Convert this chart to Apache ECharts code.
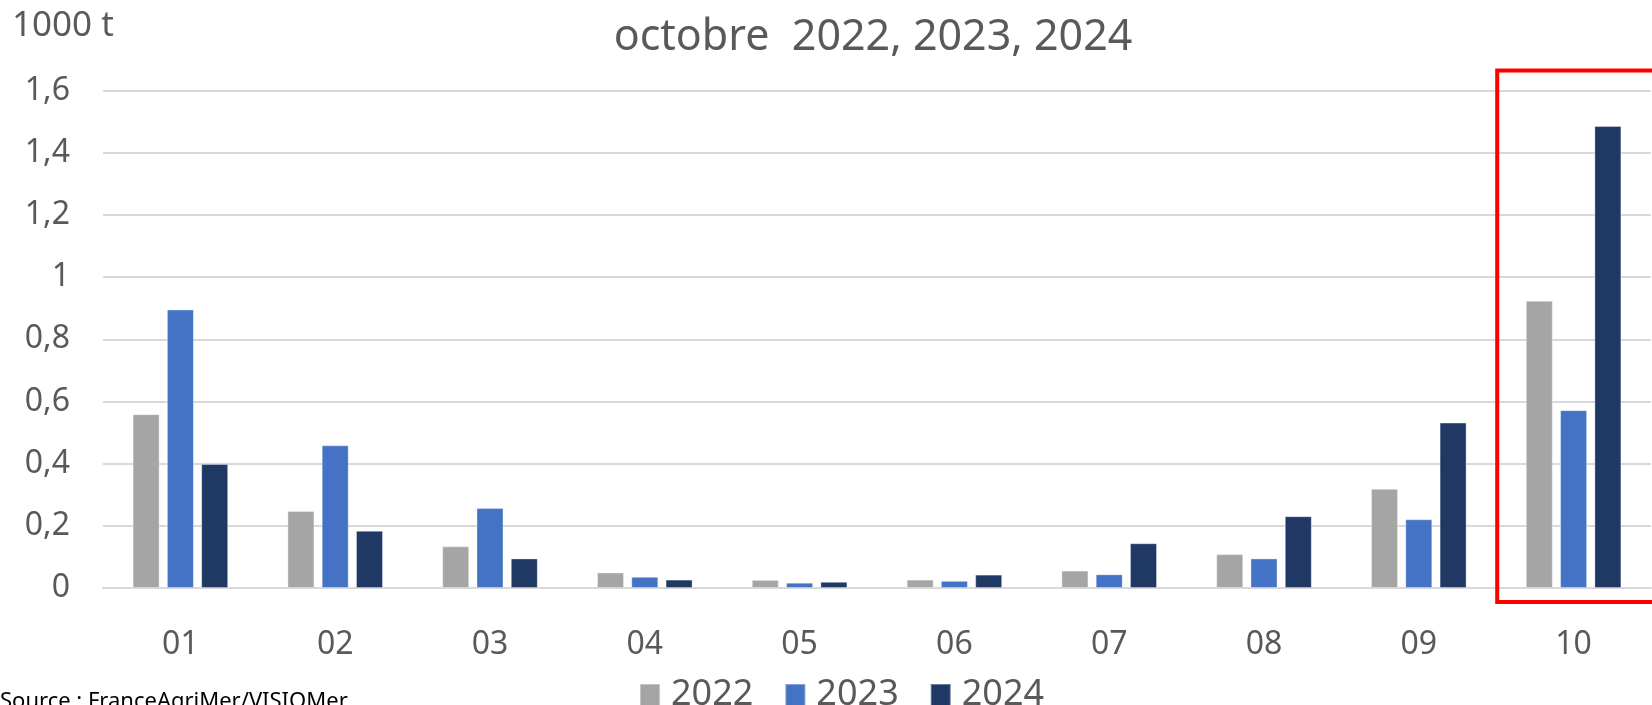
<!DOCTYPE html>
<html>
<head>
<meta charset="utf-8">
<title>Volumes - octobre 2022, 2023, 2024</title>
<script src="https://cdn.jsdelivr.net/npm/echarts@6/dist/echarts.min.js"></script>
<style>
  html, body { margin: 0; padding: 0; background: #fff; }
  #chart { width: 1652px; height: 705px; }
</style>
</head>
<body>
<div id="chart"></div>
<script>
// months (x axis)
var categories = ['01', '02', '03', '04', '05', '06', '07', '08', '09', '10'];
// values in 1000 t
var values2022 = [0.559, 0.248, 0.134, 0.050, 0.026, 0.027, 0.056, 0.109, 0.319, 0.924];
var values2023 = [0.896, 0.459, 0.257, 0.036, 0.017, 0.023, 0.044, 0.095, 0.221, 0.572];
var values2024 = [0.399, 0.184, 0.095, 0.027, 0.020, 0.043, 0.144, 0.231, 0.532, 1.486];
var seriesNames = ['2022', '2023', '2024'];

var font = 'Noto Sans';
var textColor = '#595959';

var chartDom = document.getElementById('chart');
var myChart = echarts.init(chartDom);

function barSeries(name, data, color) {
    return {
        name: name,
        type: 'bar',
        data: data,
        barWidth: 27,
        barGap: '27%',
        itemStyle: { color: color, borderColor: 'rgba(255,255,255,0.35)', borderWidth: 1 }
    };
}

var option = {
    animation: false,
    backgroundColor: '#fff',
    textStyle: { fontFamily: font },
    title: {
        text: 'octobre  2022, 2023, 2024',
        left: 868,
        textAlign: 'center',
        top: 11,
        textStyle: { fontFamily: font, fontSize: 43, fontWeight: 'normal', color: textColor }
    },
    legend: {
        data: seriesNames,
        left: 634,
        top: 672,
        itemWidth: 20,
        itemHeight: 22,
        itemGap: 31,
        icon: 'rect',
        textStyle: { fontFamily: font, fontSize: 36, color: textColor, padding: [0, 0, 0, 6] }
    },
    grid: {
        left: 103,
        right: 1,
        top: 90.6,
        bottom: 117
    },
    xAxis: {
        type: 'category',
        data: categories,
        axisTick: { show: false },
        axisLine: { lineStyle: { color: '#D9D9D9', width: 2 } },
        axisLabel: { fontFamily: font, fontSize: 32, color: textColor, margin: 41 }
    },
    yAxis: {
        type: 'value',
        min: 0,
        max: 1.6,
        interval: 0.2,
        axisLine: { show: false },
        axisTick: { show: false },
        splitLine: { lineStyle: { color: '#D9D9D9', width: 2 } },
        axisLabel: {
            fontFamily: font, fontSize: 32, color: textColor, margin: 33,
            formatter: function (v) { return String(+v.toFixed(1)).replace('.', ','); }
        }
    },
    series: [
        barSeries(seriesNames[0], values2022, '#A5A5A5'),
        barSeries(seriesNames[1], values2023, '#4472C4'),
        barSeries(seriesNames[2], values2024, '#203864')
    ]
};
myChart.setOption(option);

// unit label, source and the red box around the last month
var lastIdx = categories.length - 1;
var bandHalf = (myChart.convertToPixel({ xAxisIndex: 0 }, categories[1]) - myChart.convertToPixel({ xAxisIndex: 0 }, categories[0])) / 2;
var boxLeft = myChart.convertToPixel({ xAxisIndex: 0 }, categories[lastIdx]) - bandHalf + 1;
var boxTop = myChart.convertToPixel({ yAxisIndex: 0 }, 1.6) - 20;
var boxBottom = myChart.convertToPixel({ yAxisIndex: 0 }, 0) + 14;

myChart.setOption({
    graphic: [
        {
            type: 'text', left: 12, top: 9,
            style: { text: '1000 t', fontFamily: font, fontSize: 35, fill: textColor }
        },
        {
            type: 'text', left: 0, top: 691,
            style: { text: 'Source : FranceAgriMer/VISIOMer', fontFamily: font, fontSize: 22, fill: '#000' }
        },
        {
            type: 'rect',
            shape: { x: boxLeft, y: boxTop, width: 400, height: boxBottom - boxTop },
            style: { fill: 'none', stroke: '#FF0000', lineWidth: 4 },
            z: 100
        }
    ]
});
</script>
</body>
</html>
